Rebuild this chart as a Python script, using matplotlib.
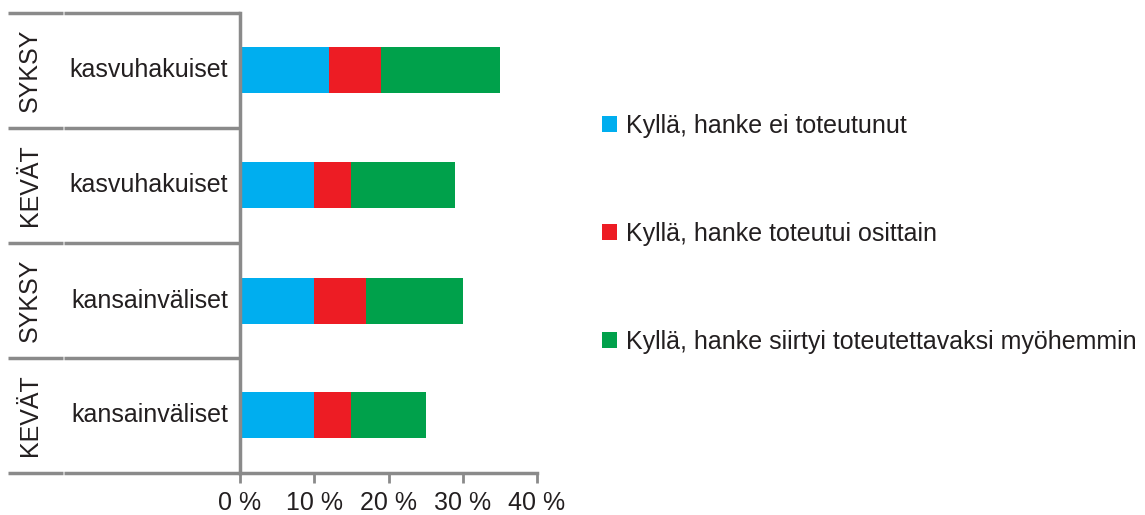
import matplotlib.pyplot as plt

plt.rcParams['font.family'] = ['Liberation Sans', 'DejaVu Sans']

# rows from top to bottom
seasons = ['SYKSY', 'KEVÄT', 'SYKSY', 'KEVÄT']
groups = ['kasvuhakuiset', 'kasvuhakuiset', 'kansainväliset', 'kansainväliset']

series_names = ['Kyllä, hanke ei toteutunut',
                'Kyllä, hanke toteutui osittain',
                'Kyllä, hanke siirtyi toteutettavaksi myöhemmin']
not_done = [12, 10, 10, 10]
partly = [7, 5, 7, 5]
postponed = [16, 14, 13, 10]
colors = ['#00aeef', '#ed1c24', '#00a14b']

ticks = [0, 10, 20, 30, 40]
tick_labels = ['0 %', '10 %', '20 %', '30 %', '40 %']

line_col = '#8a8a8a'
text_col = '#231f20'
fs = 18

fig = plt.figure(figsize=(11.45, 5.15), dpi=100)
ax = fig.add_axes([240 / 1145, 1 - 473 / 515, 297 / 1145, 460 / 515])

ypos = list(range(len(groups)))
left = [0] * len(groups)
bars = []
for vals, name, col in zip([not_done, partly, postponed], series_names, colors):
    b = ax.barh(ypos, vals, left=left, height=0.4, color=col, label=name)
    bars.append(b)
    left = [l + v for l, v in zip(left, vals)]

ax.set_xlim(0, 40)
ax.set_ylim(len(groups) - 0.5, -0.5)
ax.set_xticks(ticks)
ax.set_xticklabels(tick_labels, fontsize=fs, color=text_col)
ax.set_yticks([])
ax.tick_params(axis='x', length=7, width=2, color=line_col, pad=6)

for s in ['top', 'right']:
    ax.spines[s].set_visible(False)
for s in ['left', 'bottom']:
    ax.spines[s].set_color(line_col)
    ax.spines[s].set_linewidth(2.5)

# category grid on the left
tr = ax.get_yaxis_transform()
x0 = -232 / 297
xgap = -176 / 297
for yb in [i - 0.5 for i in range(len(groups) + 1)]:
    ax.plot([x0, xgap - 0.004], [yb, yb], color=line_col, lw=2.5,
            transform=tr, clip_on=False, solid_capstyle='butt')
    ax.plot([xgap + 0.001, 0], [yb, yb], color=line_col, lw=2.5,
            transform=tr, clip_on=False, solid_capstyle='butt')

for y, (season, grp) in enumerate(zip(seasons, groups)):
    ax.text(-12 / 297, y, grp, transform=tr, ha='right', va='center',
            fontsize=fs, color=text_col)
    ax.text(-210 / 297, y, season, transform=tr, ha='center', va='center',
            rotation=90, fontsize=fs, color=text_col)

fig.legend(handles=bars, loc='upper left', bbox_to_anchor=(592 / 1145, 1 - 104 / 515),
           frameon=False, fontsize=fs, handlelength=0.6, handleheight=0.6,
           handletextpad=0.35, labelspacing=3.35, borderaxespad=0,
           labelcolor=text_col)

fig.savefig('out.png', dpi=100)
